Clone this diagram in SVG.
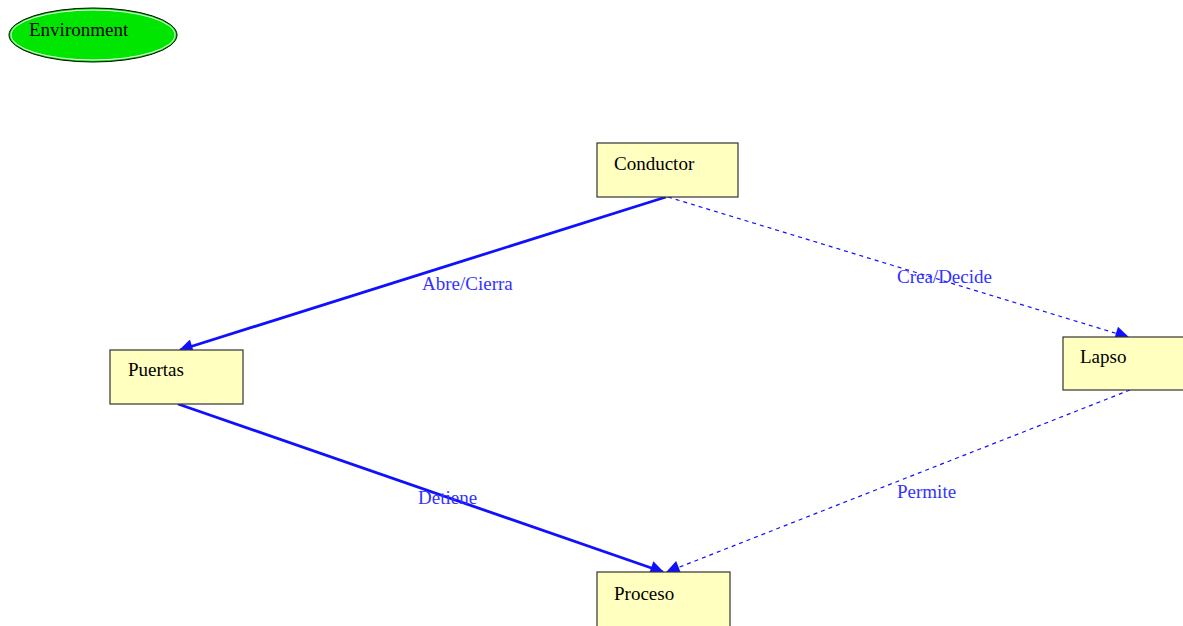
<svg xmlns="http://www.w3.org/2000/svg" width="1183" height="626" viewBox="0 0 1183 626">
<style>
.box{fill:#ffffc0;stroke:#333333;stroke-width:1.2}
.t{font-family:'Liberation Serif','Times New Roman','DejaVu Serif',serif;font-size:19px;fill:#000}
.lbl{font-family:'Liberation Serif','Times New Roman','DejaVu Serif',serif;font-size:19px;fill:#3333ff}
.solid{stroke:#1010ff;stroke-width:2.8;fill:none}
.dash{stroke:#1010ff;stroke-width:1.2;stroke-dasharray:4,4;fill:none}
</style>
<defs>
<marker id="ah" viewBox="0 0 10 10" refX="9" refY="5" markerWidth="18" markerHeight="14" markerUnits="userSpaceOnUse" orient="auto"><path d="M0,0 L10,5 L0,10 z" fill="#1010ff"/></marker>
</defs>
<rect width="1183" height="626" fill="#ffffff"/>
<g id="environment">
<ellipse cx="93" cy="35" rx="84" ry="27" fill="#00e600" stroke="#000" stroke-width="1"/>
<ellipse cx="93" cy="35" rx="82" ry="25" fill="none" stroke="#fff" stroke-width="1"/>
<text class="t" x="29" y="36" font-family="Liberation Serif, serif" font-size="18.5">Environment</text>
</g>
<g id="connectors">
<line class="solid" x1="666" y1="197" x2="180" y2="350" marker-end="url(#ah)"/>
<line class="dash" x1="668" y1="197" x2="1128" y2="337" marker-end="url(#ah)"/>
<line class="solid" x1="178" y1="404" x2="663" y2="572" marker-end="url(#ah)"/>
<line class="dash" x1="1130" y1="390" x2="667" y2="572" marker-end="url(#ah)"/>
<text class="lbl" x="422" y="290" font-family="Liberation Serif, serif">Abre/Cierra</text>
<text class="lbl" x="897" y="283" font-family="Liberation Serif, serif">Crea/Decide</text>
<text class="lbl" x="418" y="504" font-family="Liberation Serif, serif">Detiene</text>
<text class="lbl" x="897" y="498" font-family="Liberation Serif, serif">Permite</text>
</g>
<g id="conductor">
<rect class="box" x="597" y="143" width="141" height="54"/>
<text class="t" x="614" y="170" font-family="Liberation Serif, serif">Conductor</text>
</g>
<g id="puertas">
<rect class="box" x="110" y="350" width="133" height="54"/>
<text class="t" x="128" y="376" font-family="Liberation Serif, serif">Puertas</text>
</g>
<g id="lapso">
<rect class="box" x="1063" y="337" width="125" height="53"/>
<text class="t" x="1080" y="363" font-family="Liberation Serif, serif">Lapso</text>
</g>
<g id="proceso">
<rect class="box" x="597" y="572" width="133" height="60"/>
<text class="t" x="614" y="600" font-family="Liberation Serif, serif">Proceso</text>
</g>
</svg>
